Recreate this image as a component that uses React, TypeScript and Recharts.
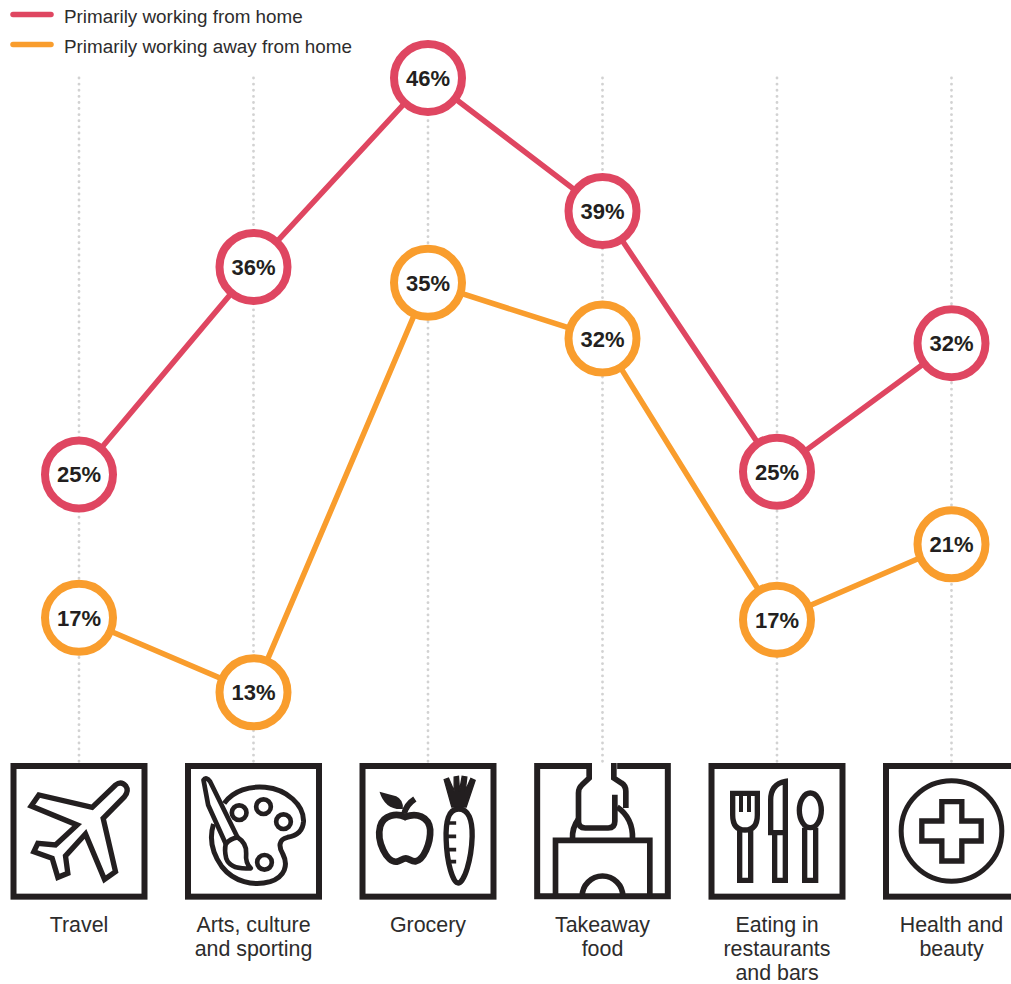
import React from 'react';
import { LineChart, Line, XAxis, YAxis, CartesianGrid, Legend } from 'recharts';

const categories = ['Travel', 'Arts, culture and sporting', 'Grocery', 'Takeaway food', 'Eating in restaurants and bars', 'Health and beauty'];
const categoryLines = [['Travel'], ['Arts, culture', 'and sporting'], ['Grocery'], ['Takeaway', 'food'], ['Eating in', 'restaurants', 'and bars'], ['Health and', 'beauty']];
const homeValues = [24.7, 35.85, 46, 38.85, 24.85, 31.75];
const awayValues = [17, 13, 35, 32, 16.9, 20.95];

const RED = '#df4661';
const ORANGE = '#f99d2d';
const INK = '#231f20';
const TEXT = '#2d2c2c';
const FONT = '"Liberation Sans", Arial, sans-serif';

const data = categories.map((name, i) => ({ name, home: homeValues[i], away: awayValues[i] }));

// icons are traced in 3x crop coordinates, ox/oy is the top centre of each box
const Frame = ({ ox, oy }: { ox: number; oy: number }) => (
  <rect x={ox - 196.5} y={oy + 9} width={393} height={392} fill="none" stroke={INK} strokeWidth={18} />
);

const icons: React.ReactNode[] = [
  <g key="travel" transform="translate(-235.5,-39)">
    <Frame ox={235.5} oy={39} />
    <path
      d="M275 172 L345 105 Q362 92 376 108 Q386 122 372 140 L308 205 L345 365 L312 388 L255 252 L195 318 L202 370 L172 382 L155 325 L100 305 L112 280 L165 285 L230 225 L92 168 L115 135 Z"
      fill="none" stroke={INK} strokeWidth={16} strokeLinejoin="miter"
    />
  </g>,
  <g key="arts" transform="translate(-760,-39)">
    <Frame ox={760} oy={39} />
    <path
      d="M672 160 C700 120 750 108 795 112 C860 118 912 165 910 215 C908 245 885 258 862 262 C835 268 835 290 848 312 C865 345 855 380 810 395 C760 410 700 395 665 350 C640 315 625 270 640 222"
      fill="none" stroke={INK} strokeWidth={15}
    />
    <circle cx={717} cy={188} r={22} fill="#fff" stroke={INK} strokeWidth={14} />
    <circle cx={790} cy={170} r={22} fill="#fff" stroke={INK} strokeWidth={14} />
    <circle cx={850} cy={215} r={22} fill="#fff" stroke={INK} strokeWidth={14} />
    <circle cx={793} cy={337} r={22} fill="#fff" stroke={INK} strokeWidth={14} />
    <path d="M610 90 Q618 78 630 95 L712 262 L677 282 L624 165 Z" fill="#fff" stroke={INK} strokeWidth={14} strokeLinejoin="round" />
    <path d="M677 282 Q690 265 712 262 Q740 280 738 310 Q735 340 752 355 Q690 360 678 325 Q672 300 677 282 Z" fill="#fff" stroke={INK} strokeWidth={14} strokeLinejoin="round" />
  </g>,
  <g key="grocery" transform="translate(-263.5,-130)">
    <Frame ox={263.5} oy={130} />
    <path
      d="M195 292 C170 280 130 285 120 320 C108 365 140 430 170 426 C180 424 188 416 197 416 C206 416 214 426 226 425 C250 422 272 370 270 330 C266 290 228 278 195 292 Z"
      fill="none" stroke={INK} strokeWidth={20}
    />
    <path d="M118 216 L168 230 Q190 240 188 268 Q135 272 118 216 Z" fill={INK} />
    <path d="M192 282 Q198 255 224 238" fill="none" stroke={INK} strokeWidth={18} />
    <path
      d="M355 268 C325 268 316 305 318 360 C320 430 338 490 354 490 C372 490 394 420 396 350 C397 300 385 268 355 268 Z"
      fill="none" stroke={INK} strokeWidth={16}
    />
    <path d="M320 310 L348 310 M320 350 L348 350 M322 390 L348 390 M326 426 L348 426" stroke={INK} strokeWidth={11} />
    <path d="M312 180 L335 262 L378 262 L405 182 L392 176 L375 215 L380 172 L366 170 L358 215 L355 170 L342 172 L342 215 L325 175 Z" fill={INK} stroke={INK} strokeWidth={4} />
  </g>,
  <g key="takeaway" transform="translate(-788,-130)">
    <path d="M748 139 L592 139 L592 530 L984 530 L984 139 L832 139" fill="none" stroke={INK} strokeWidth={18} />
    <path d="M748 130 L748 175 L726 196 Q716 205 716 220 L716 305 Q716 325 736 325 L805 325 Q825 325 825 305 L825 225" fill="none" stroke={INK} strokeWidth={17} />
    <path d="M822 130 L822 175 L845 190 Q858 198 858 215 L858 265" fill="none" stroke={INK} strokeWidth={17} />
    <path d="M698 358 Q696 325 716 298 M832 262 Q880 295 878 358" fill="none" stroke={INK} strokeWidth={17} />
    <path d="M647 530 L647 362 L930 362 L930 530" fill="none" stroke={INK} strokeWidth={17} />
    <path d="M727 530 A61 61 0 0 1 849 530" fill="none" stroke={INK} strokeWidth={17} />
  </g>,
  <g key="eating" transform="translate(-291,-39)">
    <Frame ox={291} oy={39} />
    <path d="M158 130 L232 130 L232 195 Q232 240 195 240 Q158 240 158 195 Z" fill="none" stroke={INK} strokeWidth={16} />
    <path d="M183 130 L183 186 M207 130 L207 186" stroke={INK} strokeWidth={12} />
    <path d="M179 240 L179 391 L212 391 L212 240" fill="none" stroke={INK} strokeWidth={16} />
    <path d="M316 94 Q272 102 272 150 L272 248 L316 248 Z" fill="none" stroke={INK} strokeWidth={16} />
    <path d="M284 248 L284 391 L316 391 L316 248" fill="none" stroke={INK} strokeWidth={16} />
    <ellipse cx={391} cy={181} rx={33} ry={52} fill="none" stroke={INK} strokeWidth={16} />
    <path d="M374 233 L374 391 L407 391 L407 233" fill="none" stroke={INK} strokeWidth={16} />
  </g>,
  <g key="health" transform="translate(-815,-39)">
    <Frame ox={815} oy={39} />
    <circle cx={815} cy={243} r={151} fill="none" stroke={INK} strokeWidth={15} />
    <path d="M786 155 L846 155 L846 213 L904 213 L904 273 L846 273 L846 333 L786 333 L786 273 L726 273 L726 213 L786 213 Z" fill="none" stroke={INK} strokeWidth={16} />
  </g>,
];

const CategoryTick = ({ x, y, index }: any) => (
  <g>
    <g transform={`translate(${x},${y}) scale(0.3333)`}>{icons[index]}</g>
    <text x={x} y={y + 168.5} textAnchor="middle" fontFamily={FONT} fontSize={21.4} fill={TEXT}>
      {categoryLines[index].map((line, i) => (
        <tspan key={line} x={x} dy={i === 0 ? 0 : 24.2}>{line}</tspan>
      ))}
    </text>
  </g>
);

const ringDot = (color: string) => (props: any) => {
  const { cx, cy, value, index } = props;
  return (
    <g key={index}>
      <circle cx={cx} cy={cy} r={34} fill="#fff" stroke={color} strokeWidth={8} />
      <text x={cx} y={cy + 8} textAnchor="middle" fontFamily={FONT} fontSize={22} fontWeight={700} fill={INK}>
        {`${Math.round(value)}%`}
      </text>
    </g>
  );
};

const LegendRows = ({ payload }: any) => (
  <svg width={400} height={62} style={{ display: 'block' }}>
    {(payload || []).map((entry: any, i: number) => (
      <g key={entry.value}>
        <line x1={13} x2={51} y1={14.5 + i * 30} y2={14.5 + i * 30} stroke={entry.color} strokeWidth={5.5} strokeLinecap="round" />
        <text x={64} y={23 + i * 30} fontFamily={FONT} fontSize={18.85} fill={TEXT}>{entry.value}</text>
      </g>
    ))}
  </svg>
);

export default function App() {
  return (
    <div style={{ position: 'absolute', left: 0, top: 0, width: 1011, height: 984, overflow: 'hidden' }}>
      <LineChart width={1011} height={984} data={data} margin={{ top: 78, right: 59.5, bottom: 0, left: 79 }}>
        <CartesianGrid horizontal={false} stroke="#d2d2d2" strokeWidth={2.8} strokeDasharray="0.1 6" strokeLinecap="round" />
        <XAxis
          dataKey="name"
          height={221}
          interval={0}
          axisLine={false}
          tickLine={false}
          tickSize={0}
          tickMargin={0}
          tick={<CategoryTick />}
        />
        <YAxis hide domain={[9.2, 46]} />
        <Legend
          layout="horizontal"
          verticalAlign="middle"
          itemSorter={null}
          content={<LegendRows />}
          wrapperStyle={{ top: 0, left: 0, width: 400 }}
        />
        <Line
          name="Primarily working from home"
          dataKey="home"
          stroke={RED}
          strokeWidth={5.5}
          dot={ringDot(RED)}
          activeDot={false}
          isAnimationActive={false}
        />
        <Line
          name="Primarily working away from home"
          dataKey="away"
          stroke={ORANGE}
          strokeWidth={5.5}
          dot={ringDot(ORANGE)}
          activeDot={false}
          isAnimationActive={false}
        />
      </LineChart>
    </div>
  );
}
